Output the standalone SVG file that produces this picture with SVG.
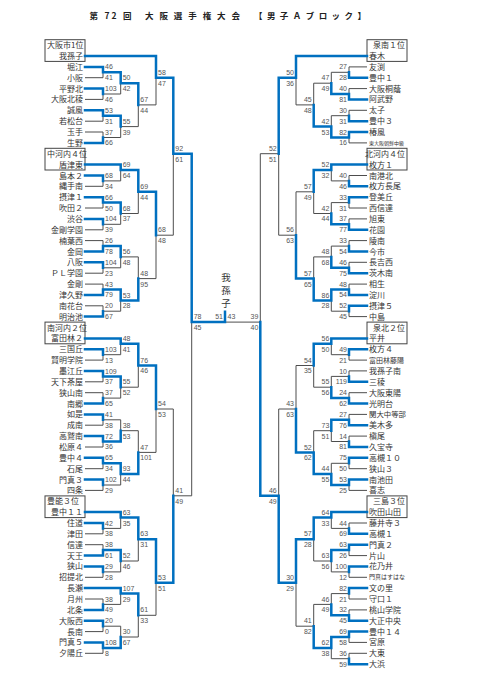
<svg xmlns="http://www.w3.org/2000/svg" width="481" height="680" viewBox="0 0 481 680">
<style>
.bg{fill:#fff}
.t{font-family:"Noto Sans CJK JP","Noto Sans",sans-serif;font-size:8px;fill:#333}
.l{text-anchor:end}
.r{text-anchor:start}
.s{font-family:"Liberation Sans",Arial,sans-serif;font-size:7px;fill:#555}
.sl{text-anchor:start}
.sr{text-anchor:end}
.g{fill:none;stroke:#4d4d4d;stroke-width:1}
.b{fill:none;stroke:#0070c0;stroke-width:2.5;stroke-linecap:square;stroke-linejoin:miter}
.box{fill:#fff;stroke:#444;stroke-width:1}
.ttl{font-family:"Noto Sans CJK JP",sans-serif;font-size:8.5px;font-weight:bold;fill:#222}
.v{font-family:"Noto Sans CJK JP",sans-serif;font-size:9.5px;fill:#333;text-anchor:middle}
</style>
<rect class="bg" x="0" y="0" width="481" height="680"/>
<g id="title">
<text class="ttl" x="89.5" y="18.7" textLength="42" lengthAdjust="spacing">第 72 回</text>
<text class="ttl" x="145" y="18.7" textLength="95" lengthAdjust="spacing">大阪選手権大会</text>
<text class="ttl" x="254" y="18.7" textLength="112" lengthAdjust="spacing">【男子Ａブロック】</text>
</g>
<g id="seed-boxes">
<rect class="box" x="45" y="39.7" width="40" height="21.7"/>
<rect class="box" x="45" y="148.3" width="40" height="21.7"/>
<rect class="box" x="45" y="322.1" width="40" height="21.7"/>
<rect class="box" x="45" y="495.9" width="40" height="21.7"/>
<rect class="box" x="367" y="39.7" width="40" height="21.7"/>
<rect class="box" x="367" y="148.3" width="40" height="21.7"/>
<rect class="box" x="367" y="322.1" width="40" height="21.7"/>
<rect class="box" x="367" y="495.9" width="40" height="21.7"/>
</g>
<g id="connectors">
<path class="g" d="M85,77.7H103V72.3M85,99.4H103V94M85,121.2H103V115.7M85,132H103V137.5M103,94H120.7V83.2M103,137.5H120.7V126.6M120.7,126.6H138.3V104.9M138.3,104.9H156V77.7M156,235.2H173.3V153.7M85,186.3H103V180.9M103,180.9H120.7V170M85,208H103V202.6M85,229.8H103V224.3M103,224.3H120.7V213.5M120.7,213.5H138.3V191.8M85,240.6H103V246.1M85,273.2H103V267.8M103,267.8H120.7V256.9M85,284.1H103V289.5M85,305.8H103V311.2M103,311.2H120.7V300.4M120.7,256.9H138.3V278.6M138.3,278.6H156V235.2M85,360.1H103V354.7M103,354.7H120.7V343.8M85,381.8H103V376.4M85,392.7H103V398.1M103,398.1H120.7V387.2M120.7,387.2H138.3V365.5M85,425.2H103V419.8M85,447H103V441.5M103,419.8H120.7V430.7M85,468.7H103V463.3M85,490.4H103V485M103,485H120.7V474.1M120.7,430.7H138.3V452.4M138.3,452.4H156V409M156,409H173.3V495.8M85,533.8H103V528.4M103,528.4H120.7V517.6M85,544.7H103V550.1M85,577.3H103V571.9M103,571.9H120.7V561M120.7,561H138.3V539.3M85,599H103V604.4M103,604.4H120.7V593.6M85,631.6H103V626.2M85,653.3H103V647.9M103,626.2H120.7V637M120.7,637H138.3V615.3M138.3,615.3H156V582.7M173.3,495.8H191.7V322.1"/>
<path class="g" d="M367,66.9H349V72.3M367,88.6H349V94M367,110.3H349V115.7M367,142.9H349V137.5M349,72.3H331.3V83.2M349,115.7H331.3V126.6M331.3,83.2H313.7V104.9M313.7,104.9H296V77.7M296,235.2H278.7V153.7M367,175.5H349V180.9M349,180.9H331.3V170M367,208H349V202.6M367,218.9H349V224.3M349,202.6H331.3V213.5M331.3,213.5H313.7V191.8M367,240.6H349V246.1M367,262.3H349V267.8M349,246.1H331.3V256.9M367,284.1H349V289.5M367,316.6H349V311.2M349,311.2H331.3V300.4M331.3,256.9H313.7V278.6M313.7,191.8H296V235.2M367,360.1H349V354.7M349,354.7H331.3V343.8M367,370.9H349V376.4M367,392.7H349V398.1M349,376.4H331.3V387.2M331.3,387.2H313.7V365.5M367,414.4H349V419.8M367,436.1H349V441.5M349,441.5H331.3V430.7M367,468.7H349V463.3M367,490.4H349V485M349,463.3H331.3V474.1M331.3,430.7H313.7V452.4M313.7,365.5H296V409M296,409H278.7V495.8M367,523H349V528.4M349,528.4H331.3V517.6M367,555.6H349V550.1M367,577.3H349V571.9M349,571.9H331.3V561M331.3,561H313.7V539.3M367,599H349V593.6M367,609.9H349V615.3M349,593.6H331.3V604.4M367,642.4H349V637M367,653.3H349V658.7M349,658.7H331.3V647.9M331.3,604.4H313.7V626.2M313.7,626.2H296V582.7M278.7,153.7H260.3V322.1M260.3,322.1H225"/>
<path class="b" d="M85,66.9H103V72.3M85,88.6H103V94M85,110.3H103V115.7M85,142.9H103V137.5M103,72.3H120.7V83.2M103,115.7H120.7V126.6M120.7,83.2H138.3V104.9M85,56H156V77.7M156,77.7H173.3V153.7M85,175.5H103V180.9M85,164.6H120.7V170M85,197.2H103V202.6M85,218.9H103V224.3M103,202.6H120.7V213.5M120.7,170H138.3V191.8M85,251.5H103V246.1M85,262.3H103V267.8M103,246.1H120.7V256.9M85,294.9H103V289.5M85,316.6H103V311.2M103,289.5H120.7V300.4M120.7,300.4H138.3V278.6M138.3,191.8H156V235.2M85,349.2H103V354.7M85,338.4H120.7V343.8M85,370.9H103V376.4M85,403.5H103V398.1M103,376.4H120.7V387.2M120.7,343.8H138.3V365.5M85,414.4H103V419.8M85,436.1H103V441.5M103,441.5H120.7V430.7M85,457.8H103V463.3M85,479.5H103V485M103,463.3H120.7V474.1M120.7,474.1H138.3V452.4M138.3,365.5H156V409M156,582.7H173.3V495.8M85,523H103V528.4M85,512.1H120.7V517.6M85,555.6H103V550.1M85,566.4H103V571.9M103,550.1H120.7V561M120.7,517.6H138.3V539.3M85,609.9H103V604.4M85,588.1H120.7V593.6M85,620.7H103V626.2M85,642.4H103V647.9M103,647.9H120.7V637M120.7,593.6H138.3V615.3M138.3,539.3H156V582.7M173.3,153.7H191.7V322.1M191.7,322.1H225V311.7"/>
<path class="b" d="M367,77.7H349V72.3M367,99.4H349V94M367,121.2H349V115.7M367,132H349V137.5M349,94H331.3V83.2M349,137.5H331.3V126.6M331.3,126.6H313.7V104.9M367,56H296V77.7M296,77.7H278.7V153.7M367,186.3H349V180.9M367,164.6H331.3V170M367,197.2H349V202.6M367,229.8H349V224.3M349,224.3H331.3V213.5M331.3,170H313.7V191.8M367,251.5H349V246.1M367,273.2H349V267.8M349,267.8H331.3V256.9M367,294.9H349V289.5M367,305.8H349V311.2M349,289.5H331.3V300.4M331.3,300.4H313.7V278.6M313.7,278.6H296V235.2M367,349.2H349V354.7M367,338.4H331.3V343.8M367,381.8H349V376.4M367,403.5H349V398.1M349,398.1H331.3V387.2M331.3,343.8H313.7V365.5M367,425.2H349V419.8M367,447H349V441.5M349,419.8H331.3V430.7M367,457.8H349V463.3M367,479.5H349V485M349,485H331.3V474.1M331.3,474.1H313.7V452.4M313.7,452.4H296V409M296,582.7H278.7V495.8M367,533.8H349V528.4M367,512.1H331.3V517.6M367,544.7H349V550.1M367,566.4H349V571.9M349,550.1H331.3V561M331.3,517.6H313.7V539.3M367,588.1H349V593.6M367,620.7H349V615.3M349,615.3H331.3V604.4M367,631.6H349V637M367,664.2H349V658.7M349,637H331.3V647.9M331.3,647.9H313.7V626.2M313.7,539.3H296V582.7M278.7,495.8H260.3V322.1"/>
</g>
<g id="left-teams" class="t l">
<g id="L-seed1"><text x="47" y="48.1" class="r">大阪市1位</text><text x="83" y="59">我孫子</text></g>
<g id="L01"><text x="83" y="69.9">堀江</text></g>
<g id="L02"><text x="83" y="80.7">小阪</text></g>
<g id="L03"><text x="83" y="91.6">平野北</text></g>
<g id="L04"><text x="83" y="102.4">大阪北稜</text></g>
<g id="L05"><text x="83" y="113.3">誠風</text></g>
<g id="L06"><text x="83" y="124.2">若松台</text></g>
<g id="L07"><text x="83" y="135">玉手</text></g>
<g id="L08"><text x="83" y="145.9">生野</text></g>
<g id="L-seed2"><text x="47" y="156.7" class="r">中河内４位</text><text x="83" y="167.6">盾津東</text></g>
<g id="L11"><text x="83" y="178.5">島本２</text></g>
<g id="L12"><text x="83" y="189.3">縄手南</text></g>
<g id="L13"><text x="83" y="200.2">摂津１</text></g>
<g id="L14"><text x="83" y="211">吹田２</text></g>
<g id="L15"><text x="83" y="221.9">渋谷</text></g>
<g id="L16"><text x="83" y="232.8">金剛学園</text></g>
<g id="L17"><text x="83" y="243.6">楠葉西</text></g>
<g id="L18"><text x="83" y="254.5">金岡</text></g>
<g id="L19"><text x="83" y="265.3">八阪</text></g>
<g id="L20"><text x="83" y="276.2">ＰＬ学園</text></g>
<g id="L21"><text x="83" y="287.1">金剛</text></g>
<g id="L22"><text x="83" y="297.9">津久野</text></g>
<g id="L23"><text x="83" y="308.8">南花台</text></g>
<g id="L24"><text x="83" y="319.6">明治池</text></g>
<g id="L-seed3"><text x="47" y="330.5" class="r">南河内２位</text><text x="83" y="341.4">富田林２</text></g>
<g id="L27"><text x="83" y="352.2">三国丘</text></g>
<g id="L28"><text x="83" y="363.1">賢明学院</text></g>
<g id="L29"><text x="83" y="373.9">墨江丘</text></g>
<g id="L30"><text x="83" y="384.8">天下茶屋</text></g>
<g id="L31"><text x="83" y="395.7">狭山南</text></g>
<g id="L32"><text x="83" y="406.5">南郷</text></g>
<g id="L33"><text x="83" y="417.4">如是</text></g>
<g id="L34"><text x="83" y="428.2">成南</text></g>
<g id="L35"><text x="83" y="439.1">高鷲南</text></g>
<g id="L36"><text x="83" y="450">松原４</text></g>
<g id="L37"><text x="83" y="460.8">豊中４</text></g>
<g id="L38"><text x="83" y="471.7">石尾</text></g>
<g id="L39"><text x="83" y="482.5">門真３</text></g>
<g id="L40"><text x="83" y="493.4">四条</text></g>
<g id="L-seed4"><text x="47" y="504.3" class="r">豊能３位</text><text x="83" y="515.1">豊中１１</text></g>
<g id="L43"><text x="83" y="526">住道</text></g>
<g id="L44"><text x="83" y="536.8">津田</text></g>
<g id="L45"><text x="83" y="547.7">信達</text></g>
<g id="L46"><text x="83" y="558.6">天王</text></g>
<g id="L47"><text x="83" y="569.4">狭山</text></g>
<g id="L48"><text x="83" y="580.3">招提北</text></g>
<g id="L49"><text x="83" y="591.1">長瀬</text></g>
<g id="L50"><text x="83" y="602">月州</text></g>
<g id="L51"><text x="83" y="612.9">北条</text></g>
<g id="L52"><text x="83" y="623.7">大阪西</text></g>
<g id="L53"><text x="83" y="634.6">長南</text></g>
<g id="L54"><text x="83" y="645.4">門真５</text></g>
<g id="L55"><text x="83" y="656.3">夕陽丘</text></g>
</g>
<g id="right-teams" class="t r">
<g id="R-seed1"><text x="405" y="48.1" class="l">泉南１位</text><text x="369" y="59">春木</text></g>
<g id="R01"><text x="369" y="69.9">友渕</text></g>
<g id="R02"><text x="369" y="80.7">豊中１</text></g>
<g id="R03"><text x="369" y="91.6">大阪桐蔭</text></g>
<g id="R04"><text x="369" y="102.4">阿武野</text></g>
<g id="R05"><text x="369" y="113.3">太子</text></g>
<g id="R06"><text x="369" y="124.2">豊中３</text></g>
<g id="R07"><text x="369" y="135">椿風</text></g>
<g id="R08"><text x="369" y="144.7" style="font-size:5px">東大阪朝鮮中級</text></g>
<g id="R-seed2"><text x="405" y="156.7" class="l">北河内４位</text><text x="369" y="167.6">枚方１</text></g>
<g id="R11"><text x="369" y="178.5">南港北</text></g>
<g id="R12"><text x="369" y="189.3">枚方長尾</text></g>
<g id="R13"><text x="369" y="200.2">登美丘</text></g>
<g id="R14"><text x="369" y="211">西信達</text></g>
<g id="R15"><text x="369" y="221.9">旭東</text></g>
<g id="R16"><text x="369" y="232.8">花園</text></g>
<g id="R17"><text x="369" y="243.6">陵南</text></g>
<g id="R18"><text x="369" y="254.5">今市</text></g>
<g id="R19"><text x="369" y="265.3">長吉西</text></g>
<g id="R20"><text x="369" y="276.2">茨木南</text></g>
<g id="R21"><text x="369" y="287.1">相生</text></g>
<g id="R22"><text x="369" y="297.9">淀川</text></g>
<g id="R23"><text x="369" y="308.8">摂津５</text></g>
<g id="R24"><text x="369" y="319.6">中島</text></g>
<g id="R-seed3"><text x="405" y="330.5" class="l">泉北２位</text><text x="369" y="341.4">平井</text></g>
<g id="R27"><text x="369" y="352.2">枚方４</text></g>
<g id="R28"><text x="369" y="362.8" style="font-size:7px">富田林藤陽</text></g>
<g id="R29"><text x="369" y="373.9">我孫子南</text></g>
<g id="R30"><text x="369" y="384.8">三稜</text></g>
<g id="R31"><text x="369" y="395.7">大阪東陽</text></g>
<g id="R32"><text x="369" y="406.5">光明台</text></g>
<g id="R33"><text x="369" y="417.2" style="font-size:7.4px">関大中等部</text></g>
<g id="R34"><text x="369" y="428.2">美木多</text></g>
<g id="R35"><text x="369" y="439.1">槇尾</text></g>
<g id="R36"><text x="369" y="450">久宝寺</text></g>
<g id="R37"><text x="369" y="460.8">高槻１０</text></g>
<g id="R38"><text x="369" y="471.7">狭山３</text></g>
<g id="R39"><text x="369" y="482.5">南池田</text></g>
<g id="R40"><text x="369" y="493.4">喜志</text></g>
<g id="R-seed4"><text x="405" y="504.3" class="l">三島３位</text><text x="369" y="515.1">吹田山田</text></g>
<g id="R43"><text x="369" y="526">藤井寺３</text></g>
<g id="R44"><text x="369" y="536.8">高槻１</text></g>
<g id="R45"><text x="369" y="547.7">門真２</text></g>
<g id="R46"><text x="369" y="558.6">片山</text></g>
<g id="R47"><text x="369" y="569.4">花乃井</text></g>
<g id="R48"><text x="369" y="579.4" style="font-size:6px">門真はすはな</text></g>
<g id="R49"><text x="369" y="591.1">文の里</text></g>
<g id="R50"><text x="369" y="602">守口１</text></g>
<g id="R51"><text x="369" y="612.9">桃山学院</text></g>
<g id="R52"><text x="369" y="623.7">大正中央</text></g>
<g id="R53"><text x="369" y="634.6">豊中１４</text></g>
<g id="R54"><text x="369" y="645.4">宮原</text></g>
<g id="R55"><text x="369" y="656.3">大東</text></g>
<g id="R56"><text x="369" y="667.2">大浜</text></g>
</g>
<g id="champion">
<text class="v" x="226" y="280.6">我</text>
<text class="v" x="226" y="293.6">孫</text>
<text class="v" x="226" y="307">子</text>
</g>
<g id="scores-left" class="s sl">
<text x="105" y="69.4">46</text><text x="105" y="80.2">41</text>
<text x="105" y="91.1">103</text><text x="105" y="101.9">46</text>
<text x="105" y="112.8">53</text><text x="105" y="123.6">31</text>
<text x="105" y="134.6">37</text><text x="105" y="145.4">66</text>
<text x="105" y="178">68</text><text x="105" y="188.8">34</text>
<text x="105" y="199.7">66</text><text x="105" y="210.5">50</text>
<text x="105" y="221.4">104</text><text x="105" y="232.2">39</text>
<text x="105" y="243.2">26</text><text x="105" y="254">78</text>
<text x="105" y="264.9">104</text><text x="105" y="275.7">23</text>
<text x="105" y="286.6">43</text><text x="105" y="297.4">79</text>
<text x="105" y="308.3">20</text><text x="105" y="319.1">67</text>
<text x="105" y="351.8">103</text><text x="105" y="362.6">13</text>
<text x="105" y="373.5">109</text><text x="105" y="384.3">37</text>
<text x="105" y="395.2">37</text><text x="105" y="406">65</text>
<text x="105" y="416.9">41</text><text x="105" y="427.7">38</text>
<text x="105" y="438.6">72</text><text x="105" y="449.4">36</text>
<text x="105" y="460.4">65</text><text x="105" y="471.2">34</text>
<text x="105" y="482.1">102</text><text x="105" y="492.9">29</text>
<text x="105" y="525.5">42</text><text x="105" y="536.3">38</text>
<text x="105" y="547.2">38</text><text x="105" y="558">61</text>
<text x="105" y="569">29</text><text x="105" y="579.8">28</text>
<text x="105" y="601.5">38</text><text x="105" y="612.3">49</text>
<text x="105" y="623.3">20</text><text x="105" y="634.1">0</text>
<text x="105" y="645">108</text><text x="105" y="655.8">8</text>
<text x="122.7" y="80.3">50</text><text x="122.7" y="91.1">42</text>
<text x="122.7" y="123.7">55</text><text x="122.7" y="134.5">39</text>
<text x="122.7" y="167.1">69</text><text x="122.7" y="177.9">64</text>
<text x="122.7" y="210.6">68</text><text x="122.7" y="221.4">37</text>
<text x="122.7" y="254">56</text><text x="122.7" y="264.8">48</text>
<text x="122.7" y="297.5">53</text><text x="122.7" y="308.3">28</text>
<text x="122.7" y="340.9">48</text><text x="122.7" y="351.7">41</text>
<text x="122.7" y="384.3">55</text><text x="122.7" y="395.1">52</text>
<text x="122.7" y="427.8">38</text><text x="122.7" y="438.6">53</text>
<text x="122.7" y="471.2">93</text><text x="122.7" y="482">44</text>
<text x="122.7" y="514.7">63</text><text x="122.7" y="525.5">35</text>
<text x="122.7" y="558.1">52</text><text x="122.7" y="568.9">46</text>
<text x="122.7" y="590.7">107</text><text x="122.7" y="601.5">29</text>
<text x="122.7" y="634.1">30</text><text x="122.7" y="644.9">67</text>
<text x="140.3" y="102">67</text><text x="140.3" y="112.8">44</text>
<text x="140.3" y="188.9">69</text><text x="140.3" y="199.7">44</text>
<text x="140.3" y="275.7">48</text><text x="140.3" y="286.5">95</text>
<text x="140.3" y="362.6">76</text><text x="140.3" y="373.4">46</text>
<text x="140.3" y="449.5">47</text><text x="140.3" y="460.3">101</text>
<text x="140.3" y="536.4">63</text><text x="140.3" y="547.2">31</text>
<text x="140.3" y="612.4">61</text><text x="140.3" y="623.2">33</text>
<text x="158" y="74.8">58</text><text x="158" y="85.6">47</text>
<text x="158" y="232.3">68</text><text x="158" y="243.1">48</text>
<text x="158" y="406.1">54</text><text x="158" y="416.9">53</text>
<text x="158" y="579.8">53</text><text x="158" y="590.6">51</text>
<text x="175.3" y="150.8">92</text><text x="175.3" y="161.6">61</text>
<text x="175.3" y="492.9">41</text><text x="175.3" y="503.7">49</text>
<text x="193.7" y="319.2">78</text><text x="193.7" y="330">45</text>
</g>
<g id="scores-right" class="s sr">
<text x="347" y="69.4">27</text><text x="347" y="80.2">28</text>
<text x="347" y="91.1">40</text><text x="347" y="101.9">81</text>
<text x="347" y="112.8">30</text><text x="347" y="123.6">31</text>
<text x="347" y="134.6">82</text><text x="347" y="145.4">16</text>
<text x="347" y="178">40</text><text x="347" y="188.8">46</text>
<text x="347" y="199.7">33</text><text x="347" y="210.5">31</text>
<text x="347" y="221.4">37</text><text x="347" y="232.2">77</text>
<text x="347" y="243.2">33</text><text x="347" y="254">54</text>
<text x="347" y="264.9">46</text><text x="347" y="275.7">75</text>
<text x="347" y="286.6">48</text><text x="347" y="297.4">54</text>
<text x="347" y="308.3">52</text><text x="347" y="319.1">45</text>
<text x="347" y="351.8">49</text><text x="347" y="362.6">21</text>
<text x="347" y="373.5">10</text><text x="347" y="384.3">119</text>
<text x="347" y="395.2">24</text><text x="347" y="406">62</text>
<text x="347" y="416.9">27</text><text x="347" y="427.7">76</text>
<text x="347" y="438.6">14</text><text x="347" y="449.4">81</text>
<text x="347" y="460.4">75</text><text x="347" y="471.2">50</text>
<text x="347" y="482.1">53</text><text x="347" y="492.9">25</text>
<text x="347" y="525.5">44</text><text x="347" y="536.3">69</text>
<text x="347" y="547.2">63</text><text x="347" y="558">26</text>
<text x="347" y="569">100</text><text x="347" y="579.8">12</text>
<text x="347" y="590.7">82</text><text x="347" y="601.5">21</text>
<text x="347" y="612.4">32</text><text x="347" y="623.2">45</text>
<text x="347" y="634.1">69</text><text x="347" y="644.9">58</text>
<text x="347" y="655.8">36</text><text x="347" y="666.6">59</text>
<text x="329.3" y="80.3">47</text><text x="329.3" y="91.1">49</text>
<text x="329.3" y="123.7">42</text><text x="329.3" y="134.5">53</text>
<text x="329.3" y="167.1">52</text><text x="329.3" y="177.9">32</text>
<text x="329.3" y="210.6">42</text><text x="329.3" y="221.4">44</text>
<text x="329.3" y="254">48</text><text x="329.3" y="264.8">68</text>
<text x="329.3" y="297.5">86</text><text x="329.3" y="308.3">28</text>
<text x="329.3" y="340.9">56</text><text x="329.3" y="351.7">50</text>
<text x="329.3" y="384.3">55</text><text x="329.3" y="395.1">56</text>
<text x="329.3" y="427.8">73</text><text x="329.3" y="438.6">51</text>
<text x="329.3" y="471.2">44</text><text x="329.3" y="482">55</text>
<text x="329.3" y="514.7">64</text><text x="329.3" y="525.5">33</text>
<text x="329.3" y="558.1">63</text><text x="329.3" y="568.9">56</text>
<text x="329.3" y="601.5">46</text><text x="329.3" y="612.3">49</text>
<text x="329.3" y="645">62</text><text x="329.3" y="655.8">38</text>
<text x="311.7" y="102">45</text><text x="311.7" y="112.8">48</text>
<text x="311.7" y="188.9">57</text><text x="311.7" y="199.7">49</text>
<text x="311.7" y="275.7">57</text><text x="311.7" y="286.5">65</text>
<text x="311.7" y="362.6">54</text><text x="311.7" y="373.4">35</text>
<text x="311.7" y="449.5">52</text><text x="311.7" y="460.3">62</text>
<text x="311.7" y="536.4">57</text><text x="311.7" y="547.2">28</text>
<text x="311.7" y="623.3">41</text><text x="311.7" y="634.1">82</text>
<text x="294" y="74.8">50</text><text x="294" y="85.6">36</text>
<text x="294" y="232.3">56</text><text x="294" y="243.1">63</text>
<text x="294" y="406.1">43</text><text x="294" y="416.9">63</text>
<text x="294" y="579.8">30</text><text x="294" y="590.6">29</text>
<text x="276.7" y="150.8">52</text><text x="276.7" y="161.6">51</text>
<text x="276.7" y="492.9">46</text><text x="276.7" y="503.7">49</text>
<text x="258.3" y="319.2">39</text><text x="258.3" y="330">40</text>
</g>
<g id="scores-final" class="s">
<text x="223" y="319.2" text-anchor="end">51</text>
<text x="227.5" y="319.2">43</text>
</g>
</svg>
